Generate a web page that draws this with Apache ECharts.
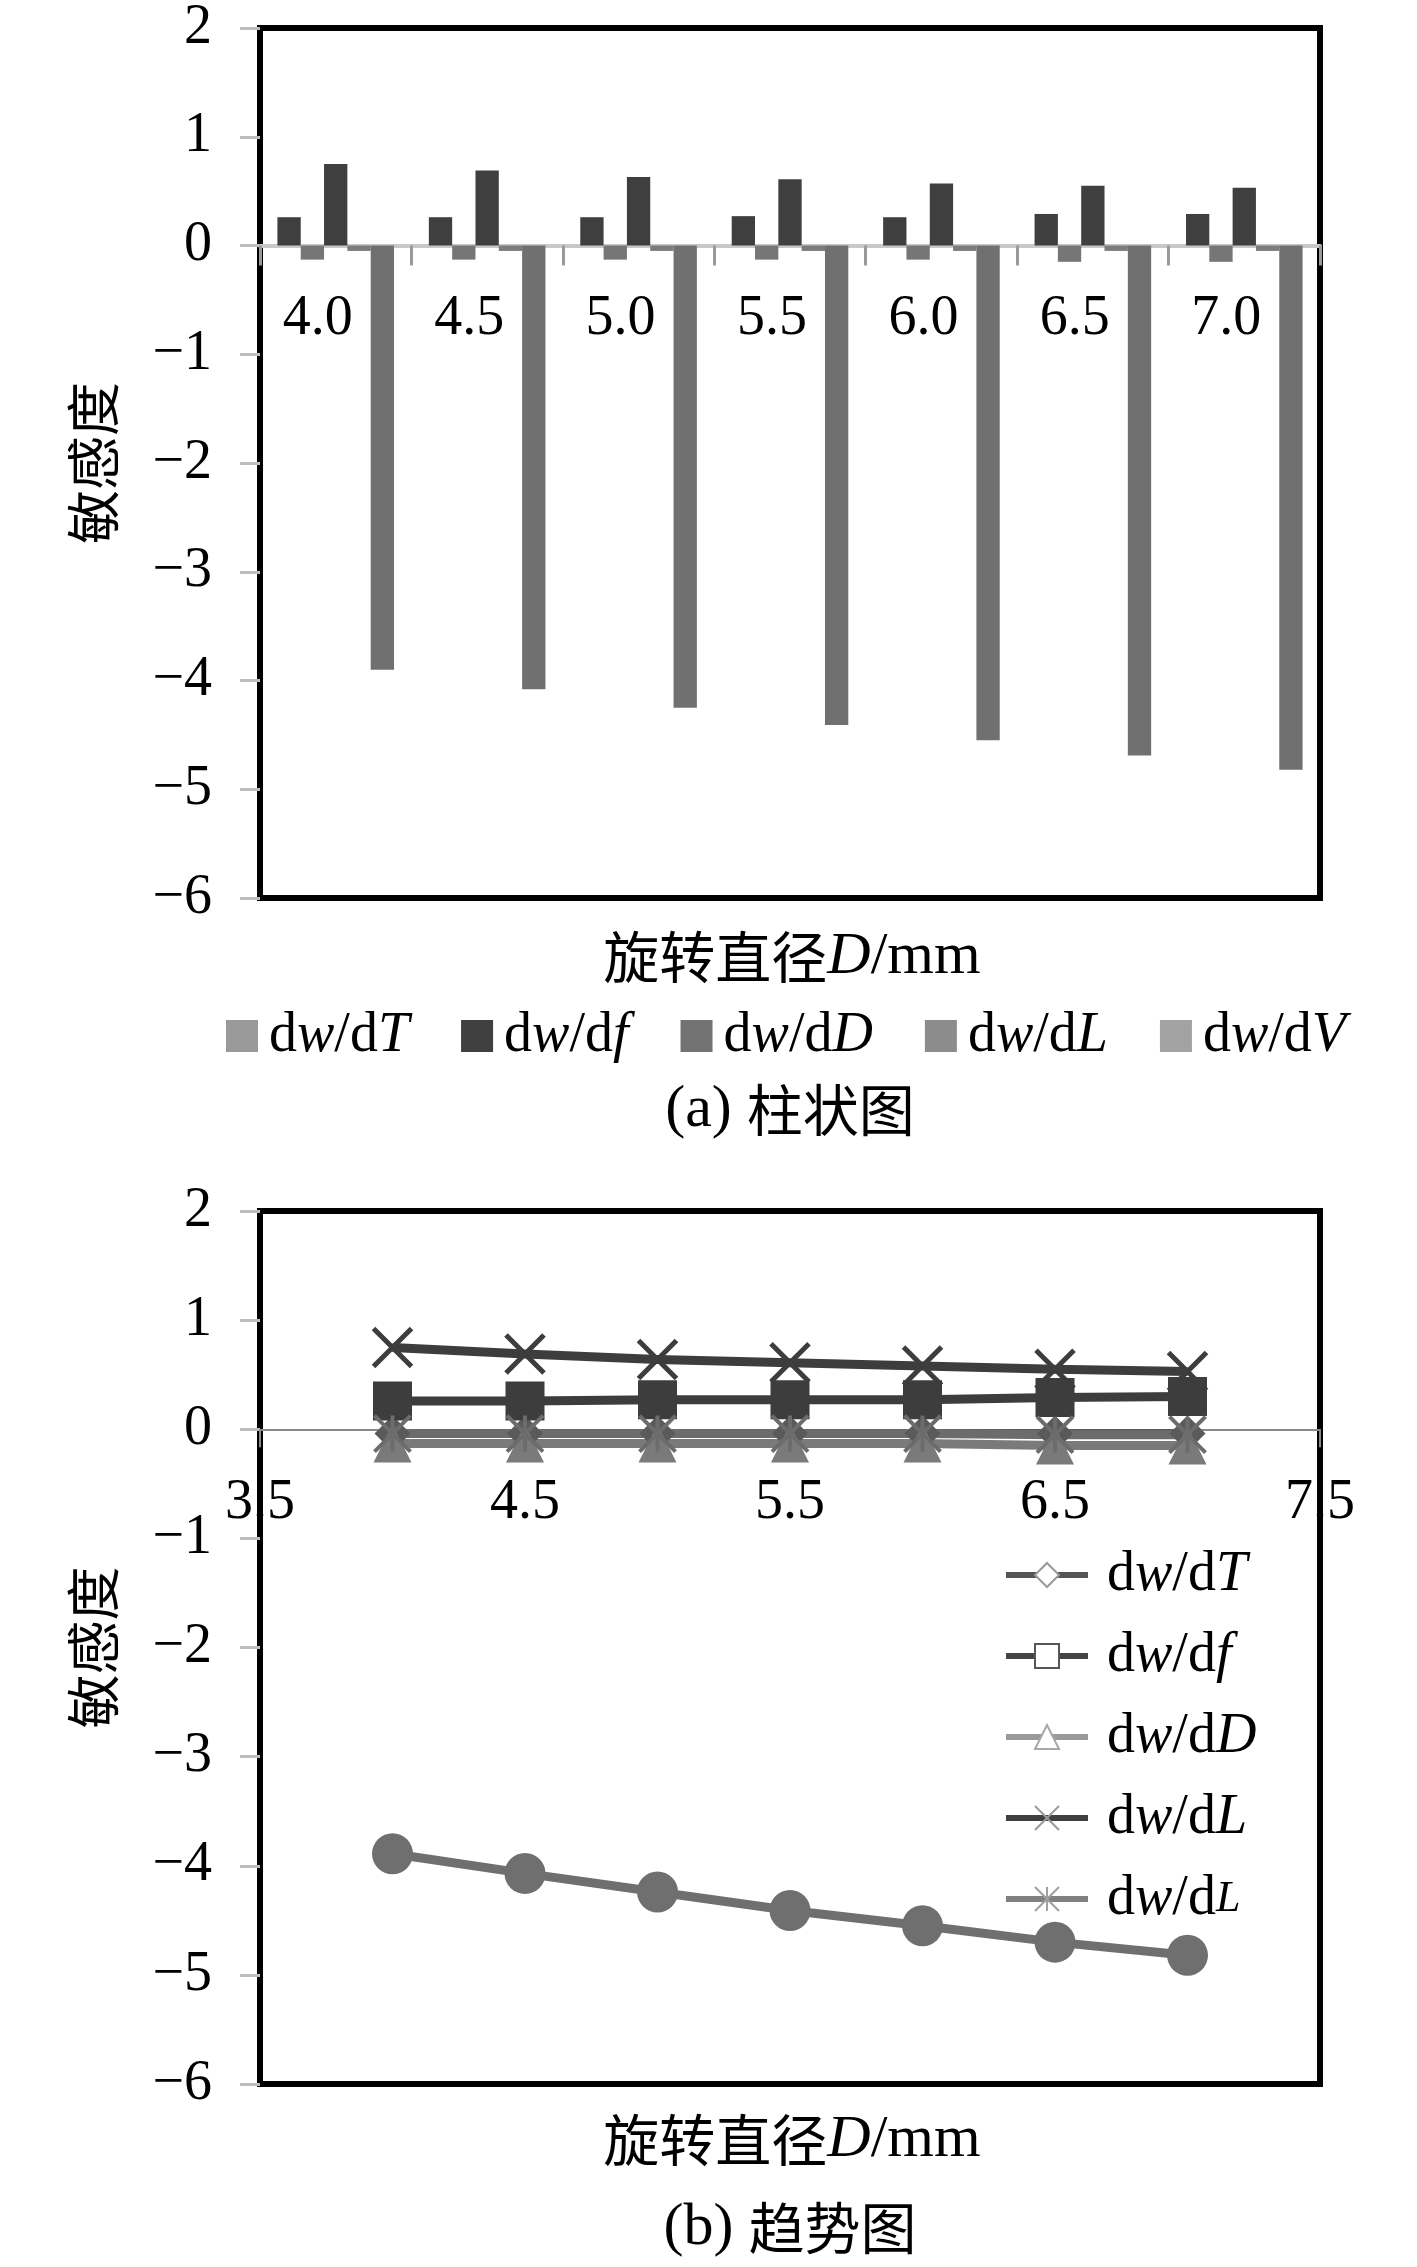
<!DOCTYPE html>
<html><head><meta charset="utf-8">
<script src="https://cdn.jsdelivr.net/npm/echarts@6/dist/echarts.min.js"></script>
<style>
html,body{margin:0;padding:0;background:#fff;}
#a,#b{position:absolute;left:0;top:0;width:1417px;height:2267px;}
</style></head><body><div id="a"></div><div id="b"></div>
<script>
// ---------- data ----------
const categories = ['4.0','4.5','5.0','5.5','6.0','6.5','7.0'];
const diameters  = [4.0, 4.5, 5.0, 5.5, 6.0, 6.5, 7.0];
const yMin = -6, yMax = 2, yStep = 1;
const xMinB = 3.5, xMaxB = 7.5, xStepB = 1;

// panel (a) bar series, in drawing order
const barNames = ['dw/dT','dw/df','dw/dD','dw/dL','dw/dV'];
const barS1 = [0.26, 0.26, 0.26, 0.27, 0.26, 0.29, 0.29];
const barS2 = [-0.13, -0.13, -0.13, -0.13, -0.13, -0.15, -0.15];
const barS3 = [0.75, 0.69, 0.63, 0.61, 0.57, 0.55, 0.53];
const barS4 = [-0.05, -0.05, -0.05, -0.05, -0.05, -0.05, -0.05];
const barS5 = [-3.90, -4.08, -4.25, -4.41, -4.55, -4.69, -4.82];

// panel (b) line series
const lineNames = ['dw/dT','dw/df','dw/dD','dw/dL','dw/dL2'];
const lineT  = [-0.04, -0.04, -0.04, -0.04, -0.04, -0.04, -0.04];
const lineF  = [0.26, 0.26, 0.27, 0.27, 0.27, 0.29, 0.30];
const lineD  = [-0.13, -0.13, -0.13, -0.13, -0.13, -0.15, -0.15];
const lineL  = [0.75, 0.69, 0.64, 0.61, 0.58, 0.55, 0.53];
const lineL2 = [-0.04, -0.04, -0.04, -0.04, -0.04, -0.05, -0.05];
const lineC  = [-3.89, -4.07, -4.24, -4.41, -4.55, -4.70, -4.82];

// ---------- styles ----------
const SERIF = 'Liberation Serif';
const CJK = 'Noto Sans CJK SC';
const FS = 56;
const rich = {
  r: {fontFamily: SERIF, fontSize: FS, color: '#000'},
  i: {fontFamily: SERIF, fontSize: FS, fontStyle: 'italic', color: '#000'},
  s: {fontFamily: SERIF, fontSize: 44, fontStyle: 'italic', color: '#000'},
  z: {fontFamily: CJK, fontSize: 52, color: '#000'}
};
const richT = {
  r: {fontFamily: SERIF, fontSize: 60, color: '#000'},
  i: {fontFamily: SERIF, fontSize: 60, fontStyle: 'italic', color: '#000'},
  z: {fontFamily: CJK, fontSize: 56, color: '#000'}
};
function nameRich(name) {
  if (name === 'dw/dL2') return '{r|d}{i|w}{r|/d}{s|L}';
  const v = name.slice(4);
  return '{r|d}{i|w}{r|/d}{i|' + v + '}';
}
const yFmt = v => v < 0 ? '\u2212' + Math.abs(v) : String(v);

function yAxisCfg() {
  return {
    type: 'value', min: yMin, max: yMax, interval: yStep,
    axisLine: {show: true, onZero: false, lineStyle: {color: '#000', width: 6}},
    axisTick: {show: true, length: 20, lineStyle: {color: '#bdbdbd', width: 3}},
    axisLabel: {fontFamily: SERIF, fontSize: FS, color: '#000', margin: 48, formatter: yFmt},
    splitLine: {show: false},
    name: '敏感度', nameLocation: 'middle', nameGap: 140, nameRotate: 90,
    nameTextStyle: {fontFamily: CJK, fontSize: 54, color: '#000'}
  };
}

// grid geometry
const gA = {top: 28, height: 870};
const gB = {top: 1211, height: 873};
// distance from grid bottom up to the zero line (labels sit under the zero line)
const zeroA = gA.height * (0 - yMin) / (yMax - yMin);
const zeroB = gB.height * (0 - yMin) / (yMax - yMin);

// ---------- chart (a) ----------
const chartA = echarts.init(document.getElementById('a'), null, {renderer: 'canvas'});
const barColors = ['#3f3f3f', '#767676', '#3f3f3f', '#7c7c7c', '#707070'];
const legendAColors = ['#9a9a9a', '#404040', '#727272', '#8c8c8c', '#a2a2a2'];
const barData = [barS1, barS2, barS3, barS4, barS5];
chartA.setOption({
  animation: false,
  grid: {left: 260, right: 97, top: gA.top, height: gA.height, show: true, borderColor: '#000', borderWidth: 6, backgroundColor: 'transparent'},
  xAxis: {
    type: 'category', data: categories,
    axisLine: {onZero: true, lineStyle: {color: '#c8c8c8', width: 4}},
    axisTick: {show: true, length: 20, lineStyle: {color: '#9a9a9a', width: 3}},
    axisLabel: {fontFamily: SERIF, fontSize: FS, color: '#000', margin: 46 - zeroA, padding: [0, 36, 0, 0]}
  },
  yAxis: yAxisCfg(),
  legend: {
    left: 221, top: 1003, itemWidth: 32, itemHeight: 32, itemGap: 52, icon: 'rect',
    data: barNames.map((n, k) => ({name: n, itemStyle: {color: legendAColors[k]}})),
    formatter: nameRich,
    textStyle: {rich: rich, padding: [0, 0, 0, 6]}
  },
  graphic: [
    {type: 'text', x: 792, y: 957, style: {text: '{z|旋转直径}{i|D}{r|/mm}', rich: richT, align: 'center', verticalAlign: 'middle'}},
    {type: 'text', x: 790, y: 1110, style: {text: '{r|(a) }{z|柱状图}', rich: richT, align: 'center', verticalAlign: 'middle'}},
    {type: 'text', x: 792, y: 2140, style: {text: '{z|旋转直径}{i|D}{r|/mm}', rich: richT, align: 'center', verticalAlign: 'middle'}},
    {type: 'text', x: 790, y: 2228, style: {text: '{r|(b) }{z|趋势图}', rich: richT, align: 'center', verticalAlign: 'middle'}}
  ],
  series: barData.map((d, k) => ({
    type: 'bar', name: barNames[k], data: d,
    barGap: '0%', barCategoryGap: '23%',
    itemStyle: {color: barColors[k]}
  }))
});

// ---------- chart (b) ----------
const chartB = echarts.init(document.getElementById('b'), null, {renderer: 'canvas'});
const pair = arr => diameters.map((x, k) => [x, arr[k]]);
const P_X = 'path://M0,0L10,10M10,0L0,10';
const P_AST = 'path://M0,0L10,10M10,0L0,10M5,0L5,10';
const lineSeries = [
  {name: 'dw/dT', data: lineT, color: '#5a5a5a', symbol: 'diamond', size: 36, fill: '#5a5a5a', bw: 0},
  {name: 'dw/df', data: lineF, color: '#3d3d3d', symbol: 'rect', size: 39, fill: '#3d3d3d', bw: 0},
  {name: 'dw/dD', data: lineD, color: '#7a7a7a', symbol: 'triangle', size: 38, fill: '#7a7a7a', bw: 0},
  {name: 'dw/dL', data: lineL, color: '#3d3d3d', symbol: P_X, size: 38, fill: '#3d3d3d', bw: 5},
  {name: 'dw/dL2', data: lineL2, color: '#6c6c6c', symbol: P_AST, size: 36, fill: '#6c6c6c', bw: 4},
  {name: 'circle', data: lineC, color: '#6f6f6f', symbol: 'circle', size: 41, fill: '#6f6f6f', bw: 0}
];
const legendB = [
  {name: 'dw/dT', line: '#555555', mk: '#9a9a9a'},
  {name: 'dw/df', line: '#444444', mk: '#555555'},
  {name: 'dw/dD', line: '#9a9a9a', mk: '#a8a8a8'},
  {name: 'dw/dL', line: '#404040', mk: '#9a9a9a'},
  {name: 'dw/dL2', line: '#808080', mk: '#a0a0a0'}
];
chartB.setOption({
  animation: false,
  grid: {left: 260, right: 97, top: gB.top, height: gB.height, show: true, borderColor: '#000', borderWidth: 6, backgroundColor: 'transparent'},
  xAxis: {
    type: 'value', min: xMinB, max: xMaxB, interval: xStepB,
    axisLine: {onZero: true, lineStyle: {color: '#8a8a8a', width: 2}},
    axisTick: {show: true, length: 18, lineStyle: {color: '#8a8a8a', width: 2}},
    axisLabel: {fontFamily: SERIF, fontSize: FS, color: '#000', margin: 46 - zeroB, showMinLabel: true, showMaxLabel: true},
    splitLine: {show: false}
  },
  yAxis: yAxisCfg(),
  legend: {
    orient: 'vertical', left: 998, top: 1540, itemWidth: 82, itemHeight: 30, itemGap: 21,
    data: legendB.map(o => ({
      name: o.name,
      itemStyle: {color: '#ffffff', borderColor: o.mk, borderWidth: 2},
      lineStyle: {color: o.line, width: 6}
    })),
    formatter: nameRich,
    textStyle: {rich: rich, padding: [0, 0, 0, 14], lineHeight: 60}
  },
  series: lineSeries.map(s => ({
    type: 'line', name: s.name, data: pair(s.data),
    symbol: s.symbol, symbolSize: s.size,
    lineStyle: {color: s.color, width: 9},
    itemStyle: {color: s.fill, borderColor: s.color, borderWidth: s.bw}
  }))
});
</script></body></html>
